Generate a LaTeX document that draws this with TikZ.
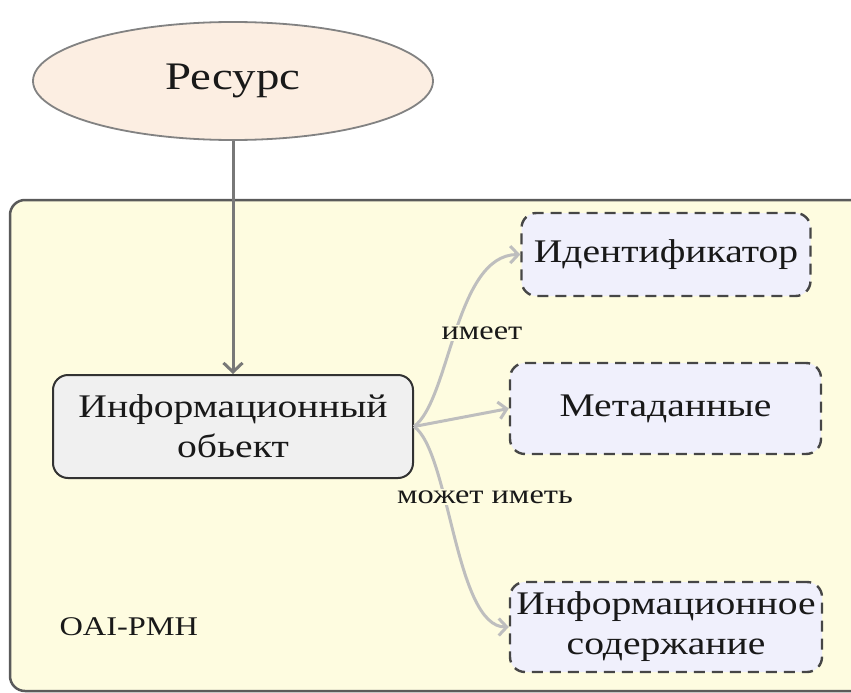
\documentclass[tikz,border=0pt]{standalone}
\usepackage{fontspec}
\setmainfont{Liberation Serif}[FakeStretch=1.2]
\usetikzlibrary{arrows.meta,shapes.geometric}
\definecolor{contfill}{RGB}{254,252,224}
\definecolor{contline}{RGB}{90,90,90}
\definecolor{resfill}{RGB}{252,238,226}
\definecolor{resline}{RGB}{130,130,130}
\definecolor{objfill}{RGB}{240,240,240}
\definecolor{objline}{RGB}{50,50,50}
\definecolor{partfill}{RGB}{240,240,252}
\definecolor{partline}{RGB}{70,70,70}
\definecolor{mainarrow}{RGB}{120,120,120}
\definecolor{lightarrow}{RGB}{190,190,190}
\definecolor{txt}{RGB}{25,25,25}
\tikzset{
  bigfont/.style={font=\fontsize{39}{48}\selectfont, text=txt},
  boxfont/.style={font=\fontsize{33}{40}\selectfont, text=txt},
  lblfont/.style={font=\fontsize{27}{30}\selectfont, text=txt},
  resnode/.style={ellipse, draw=resline, fill=resfill, line width=1.8pt, bigfont,
    minimum width=400pt, minimum height=118pt, inner sep=0pt},
  objnode/.style={rectangle, rounded corners=15pt, draw=objline, fill=objfill,
    line width=2pt, boxfont, align=center, inner sep=0pt},
  partnode/.style={rectangle, rounded corners=15pt, draw=partline, fill=partfill,
    line width=2.4pt, dash pattern=on 11pt off 7pt, boxfont, align=center, inner sep=0pt},
  mainarr/.style={draw=mainarrow, line width=3pt,
    -{Straight Barb[length=9pt,width=19pt]}},
  lightarr/.style={draw=lightarrow, line width=3pt,
    -{Straight Barb[length=8pt,width=17pt]}},
  edgelbl/.style={lblfont, fill=contfill, inner sep=2pt},
}
\begin{document}
\begin{tikzpicture}[x=1pt,y=-1pt]
\useasboundingbox (0,0) rectangle (851,693);
\clip (0,0) rectangle (851,693);
\fill[white] (0,0) rectangle (851,693);
% container
\draw[draw=contline, fill=contfill, line width=2.5pt, rounded corners=15pt]
  (10,200) rectangle (900,691);
\node[anchor=base west, text=txt, font=\fontsize{27}{32}\selectfont] (oai) at (56,635) {OAI-PMH};
% nodes
\node[resnode] (res) at (233,81) {Ресурс};
\node[objnode, minimum width=360pt, minimum height=103pt] (obj) at (233,426.5)
  {Информационный\\обьект};
\node[partnode, minimum width=289pt, minimum height=83pt] (id) at (666,254.5)
  {Идентификатор};
\node[partnode, minimum width=311pt, minimum height=91pt] (meta) at (665.5,408.5)
  {Метаданные};
\node[partnode, minimum width=312pt, minimum height=90pt] (cont) at (666,627)
  {Информационное\\содержание};
% connectors
\draw[mainarr] (res.south) -- (obj.north);
\draw[lightarr] (obj.east) .. controls (450,400) and (455,255) .. (id.west);
\draw[lightarr] (obj.east) -- (meta.west);
\draw[lightarr] (obj.east) .. controls (450,452) and (455,627) .. (cont.west);
\node[edgelbl] (l1) at (482,333) {имеет};
\node[edgelbl] (l2) at (485,497) {может иметь};
\end{tikzpicture}
\end{document}
